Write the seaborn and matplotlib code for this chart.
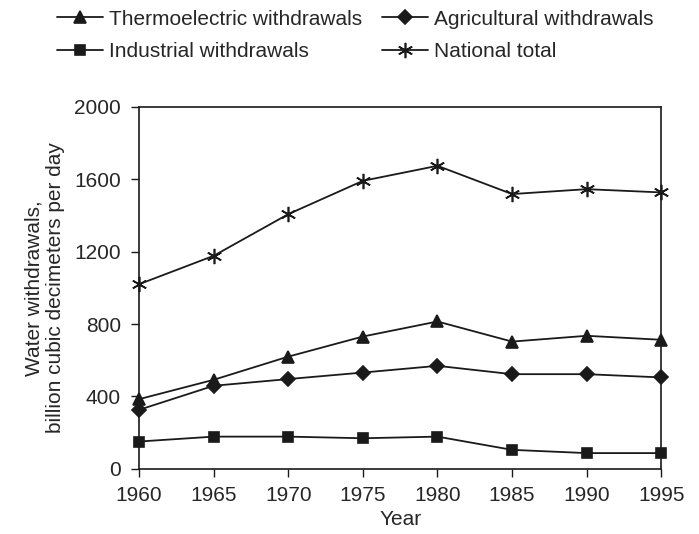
import pandas as pd
import seaborn as sns
import matplotlib.pyplot as plt

# Data
years = [1960, 1965, 1970, 1975, 1980, 1985, 1990, 1995]
thermoelectric = [385, 492, 620, 731, 814, 703, 735, 713]
agricultural = [326, 459, 496, 532, 569, 523, 523, 505]
industrial = [151, 178, 178, 169, 178, 105, 87, 87]
national_total = [1020, 1177, 1407, 1591, 1674, 1518, 1545, 1527]

series_names = ['Thermoelectric withdrawals', 'Industrial withdrawals',
                'Agricultural withdrawals', 'National total']
series_values = [thermoelectric, industrial, agricultural, national_total]

df = pd.concat([pd.DataFrame({'Year': years, 'Value': vals, 'Series': name})
                for name, vals in zip(series_names, series_values)])

sns.set_style('white')
plt.rcParams['font.family'] = ['Liberation Sans', 'DejaVu Sans']
fs = 15

markers = {
    'Thermoelectric withdrawals': '^',
    'Industrial withdrawals': 's',
    'Agricultural withdrawals': 'D',
    'National total': (6, 2, 0),
}
sizes = {
    'Thermoelectric withdrawals': 9,
    'Industrial withdrawals': 7.5,
    'Agricultural withdrawals': 7,
    'National total': 11,
}

fig = plt.figure(figsize=(6.99, 5.34), dpi=100)
ax = fig.add_axes([0.199, 0.122, 0.747, 0.678])

handles = []
for name in series_names:
    sub = df[df['Series'] == name]
    sns.lineplot(data=sub, x='Year', y='Value', ax=ax, color='#1a1a1a',
                 linewidth=1.3, marker=markers[name], markersize=sizes[name],
                 markeredgewidth=1.2, markeredgecolor='#1a1a1a',
                 label=name, legend=False)
    handles.append(ax.lines[-1])

ax.set_xlim(1960, 1995)
ax.set_ylim(0, 2000)
ax.set_xticks(years)
ax.set_yticks([0, 400, 800, 1200, 1600, 2000])
ax.tick_params(axis='both', direction='out', length=6, width=1, labelsize=fs,
               color='#1a1a1a', left=True, bottom=True)
ax.tick_params(axis='x', pad=6)
ax.tick_params(axis='y', pad=7)
for s in ax.spines.values():
    s.set_color('#1a1a1a')
    s.set_linewidth(1.2)
ax.set_xlabel('Year', fontsize=fs, labelpad=4)
ax.set_ylabel('Water withdrawals,\nbillion cubic decimeters per day', fontsize=fs,
              linespacing=1.15, labelpad=7)
for m in handles:
    m.set_clip_on(False)

fig.legend(handles=handles, labels=series_names, ncol=2, loc='upper left',
           bbox_to_anchor=(57 / 699, 0.982), frameon=False, fontsize=fs,
           handlelength=2.2, handletextpad=0.3, columnspacing=0.95,
           labelspacing=0.65, borderpad=0, borderaxespad=0)

fig.savefig('out.png', dpi=100)
